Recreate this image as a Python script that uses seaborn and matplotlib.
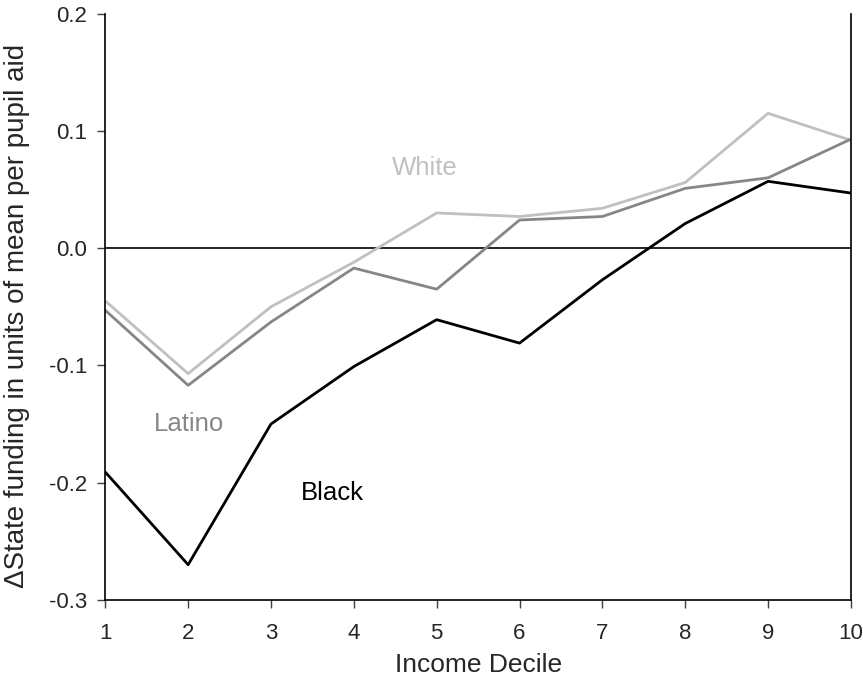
import numpy as np
import pandas as pd
import matplotlib
matplotlib.use("Agg")
import matplotlib.pyplot as plt
import seaborn as sns

# values
deciles = [1, 2, 3, 4, 5, 6, 7, 8, 9, 10]
white = [-0.045, -0.107, -0.050, -0.012, 0.030, 0.027, 0.034, 0.056, 0.115, 0.092]
latino = [-0.053, -0.117, -0.063, -0.017, -0.035, 0.024, 0.027, 0.051, 0.060, 0.093]
black = [-0.191, -0.270, -0.150, -0.101, -0.061, -0.081, -0.027, 0.021, 0.057, 0.047]

groups = ["White", "Latino", "Black"]
colors = {"White": "#c0c0c0", "Latino": "#868686", "Black": "#000000"}

df = pd.DataFrame({
    "decile": deciles * 3,
    "value": white + latino + black,
    "group": ["White"] * 10 + ["Latino"] * 10 + ["Black"] * 10,
})

sns.set_style("ticks")
plt.rcParams["font.family"] = ["Liberation Sans", "DejaVu Sans"]

fig = plt.figure(figsize=(8.63, 6.84), dpi=100)
ax = fig.add_axes([0.122, 0.123, 0.864, 0.857])

ax.axhline(0, color="black", lw=1.2, zorder=1)
sns.lineplot(data=df, x="decile", y="value", hue="group", hue_order=groups,
             palette=colors, lw=2, legend=False, ax=ax, zorder=2)

# inline group labels
ax.text(4.86, 0.068, "White", color="#c0c0c0", fontsize=18.5, ha="center", va="center")
ax.text(2.01, -0.150, "Latino", color="#868686", fontsize=18.5, ha="center", va="center")
ax.text(3.74, -0.209, "Black", color="black", fontsize=18.5, ha="center", va="center")

ax.set_xlim(1, 10)
ax.set_ylim(-0.3, 0.2)
ax.set_xticks(deciles)
ax.set_yticks([-0.3, -0.2, -0.1, 0.0, 0.1, 0.2])
ax.set_yticklabels(["-0.3", "-0.2", "-0.1", "0.0", "0.1", "0.2"])
ax.tick_params(labelsize=16, length=6, width=1, color="#404040")
ax.tick_params(axis="x", pad=11)
ax.tick_params(axis="y", pad=7)
ax.set_xlabel("Income Decile", fontsize=19, labelpad=6)
ax.set_ylabel("\u0394State funding in units of mean per pupil aid", fontsize=20)
ax.yaxis.set_label_coords(-0.101, 0.485)

ax.spines["top"].set_visible(False)
for s in ["left", "right", "bottom"]:
    ax.spines[s].set_color("black")
    ax.spines[s].set_linewidth(1.2)

fig.savefig("out.png", dpi=100)
